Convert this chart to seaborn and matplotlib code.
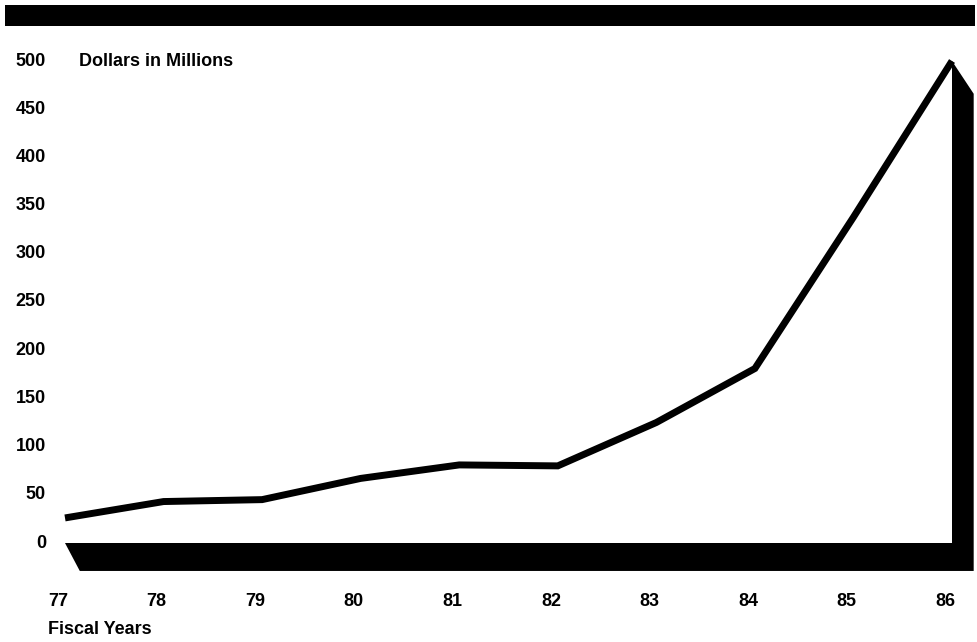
import matplotlib
matplotlib.use("Agg")
import matplotlib.pyplot as plt
import matplotlib.transforms as mtransforms
from matplotlib.patches import Rectangle
import seaborn as sns
import pandas as pd

# Fiscal-year spending, dollars in millions
years = [77, 78, 79, 80, 81, 82, 83, 84, 85, 86]
dollars = [26, 43, 45, 67, 81, 80, 125, 181, 338, 500]
y_ticks = [0, 50, 100, 150, 200, 250, 300, 350, 400, 450, 500]
x_labels = ["77", "78", "79", "80", "81", "82", "83", "84", "85", "86"]

df = pd.DataFrame({"year": years, "dollars": dollars})

sns.set_theme(style="white")
plt.rcParams["font.family"] = ["Liberation Sans", "DejaVu Sans"]

W, H = 978, 642
fig = plt.figure(figsize=(W / 100, H / 100), dpi=100)
ax = fig.add_axes([0, 0, 1, 1])
ax.set_axis_off()

# pixel layout of the plotting frame
x0_px, x1_px = 65, 952      # first / last fiscal year
y0_px, y500_px = 543, 61    # zero line / 500 line (from top)
px_per_year = (x1_px - x0_px) / (years[-1] - years[0])
px_per_unit = (y0_px - y500_px) / 500.0
ax.set_xlim(years[0] - x0_px / px_per_year, years[0] + (W - x0_px) / px_per_year)
ax.set_ylim(-(H - y0_px) / px_per_unit, y0_px / px_per_unit)

# 3-D slab: floor under the chart and a wall behind the final year
depth_y = 29
depth_x = 0.22
last_x, last_y = years[-1], dollars[-1]
slab_x = [years[0], last_x, last_x, last_x + depth_x, last_x + depth_x, years[0] + 0.15]
slab_y = [0, 0, last_y, last_y - 34, -depth_y, -depth_y]
ax.fill(slab_x, slab_y, color="black", lw=0, zorder=1)

sns.lineplot(data=df, x="year", y="dollars", ax=ax, color="black", lw=5,
             solid_joinstyle="miter", solid_capstyle="butt", zorder=3)
ax.set_xlabel("")
ax.set_ylabel("")

# heavy bar across the top
ax.add_patch(Rectangle((5 / W, 1 - 26 / H), 970 / W, 21 / H, transform=ax.transAxes,
                       color="black", lw=0, zorder=2))

font = dict(fontsize=13, fontweight="bold", color="black")

# y tick labels
ty = mtransforms.blended_transform_factory(ax.transAxes, ax.transData)
for v in y_ticks:
    ax.text(46 / W, v, str(v), transform=ty, ha="right", va="center", **font)

# x tick labels
tx = mtransforms.blended_transform_factory(ax.transData, ax.transAxes)
for yr, lab in zip(years, x_labels):
    ax.text(yr - 0.07, 1 - 601 / H, lab, transform=tx, ha="center", va="center", **font)

ax.text(79 / W, 500, "Dollars in Millions", transform=ty, ha="left", va="center", **font)
ax.text(48 / W, 1 - 630 / H, "Fiscal Years", transform=ax.transAxes,
        ha="left", va="center", **font)

fig.savefig("out.png", dpi=100, facecolor="white")
